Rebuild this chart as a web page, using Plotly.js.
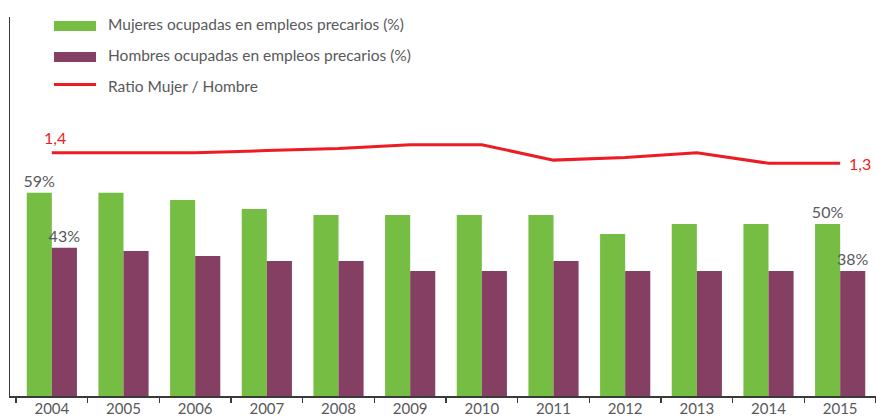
<!DOCTYPE html>
<html>
<head>
<meta charset="utf-8">
<script src="https://cdn.plot.ly/plotly-3.0.1.min.js"></script>
<style>html,body{margin:0;padding:0;background:#fff;}#chart{width:876px;height:419px;}</style>
</head>
<body>
<div id="chart"></div>
<script>
const years = ['2004','2005','2006','2007','2008','2009','2010','2011','2012','2013','2014','2015'];
const mujeres = [59, 59, 56.9, 54.3, 52.5, 52.5, 52.5, 52.5, 47, 49.9, 49.9, 49.9];
const hombres = [43, 42.1, 40.6, 39.2, 39.2, 36.3, 36.3, 39.2, 36.3, 36.3, 36.3, 36.3];
const ratio = [1.40, 1.40, 1.40, 1.42, 1.44, 1.475, 1.475, 1.33, 1.355, 1.40, 1.30, 1.30];
const mujeresLabels = ['59%', '', '', '', '', '', '', '', '', '', '', '50%'];
const hombresLabels = ['43%', '', '', '', '', '', '', '', '', '', '', '38%'];
const ratioLabels = ['1,4', '', '', '', '', '', '', '', '', '', '', '1,3'];
const legendNames = ['Mujeres ocupadas en empleos precarios (%)', 'Hombres ocupadas en empleos precarios (%)', 'Ratio Mujer / Hombre'];

const GREEN = '#76bd43', PURPLE = '#843f62', RED = '#ed1c24', TXT = '#58595b';
const FONT = 'Lato, Roboto, sans-serif';

const W = 876, H = 419, ML = 10, MR = 0, MT = 17, MB = 23;
const px = x => (x - ML) / (W - ML - MR);
const py = y => (H - MB - y) / (H - MT - MB);

const traces = [
  {type: 'bar', x: years, y: mujeres, name: legendNames[0], marker: {color: GREEN},
   text: mujeresLabels, textposition: 'outside', constraintext: 'none', cliponaxis: false,
   textfont: {family: FONT, size: 16, color: TXT}, hoverinfo: 'skip'},
  {type: 'bar', x: years, y: hombres, name: legendNames[1], marker: {color: PURPLE},
   text: hombresLabels, textposition: 'outside', constraintext: 'none', cliponaxis: false,
   textfont: {family: FONT, size: 16, color: TXT}, hoverinfo: 'skip'},
  {type: 'scatter', mode: 'lines', x: years, y: ratio, yaxis: 'y2', name: legendNames[2],
   line: {color: RED, width: 3}, cliponaxis: false, hoverinfo: 'skip'}
];

const shapes = [
  {type: 'rect', xref: 'paper', yref: 'paper', x0: px(54), x1: px(96), y0: py(21), y1: py(31), fillcolor: GREEN, line: {width: 0}},
  {type: 'rect', xref: 'paper', yref: 'paper', x0: px(54), x1: px(96), y0: py(52), y1: py(62), fillcolor: PURPLE, line: {width: 0}},
  {type: 'line', xref: 'paper', yref: 'paper', x0: px(54), x1: px(96), y0: py(84.5), y1: py(84.5), line: {color: RED, width: 3}}
];
const annotations = legendNames.map((t, i) => ({
  xref: 'paper', yref: 'paper', x: px(106), y: py([24, 55, 86][i]), xanchor: 'left', yanchor: 'middle',
  text: t, showarrow: false, font: {family: FONT, size: 15.5, color: TXT}
}));
ratioLabels.forEach((t, i) => {
  if (!t) return;
  const first = i === 0;
  annotations.push({
    xref: 'x', yref: 'y2', x: i, y: ratio[i], text: t, showarrow: false,
    xanchor: first ? 'center' : 'left', yanchor: first ? 'bottom' : 'middle',
    xshift: first ? 3 : 7, yshift: first ? 4 : 0,
    font: {family: FONT, size: 16, color: RED}
  });
});

const layout = {
  width: W, height: H,
  margin: {l: ML, r: MR, t: MT, b: MB, pad: 0},
  paper_bgcolor: '#fff', plot_bgcolor: '#fff',
  showlegend: false,
  barmode: 'group', bargap: 0.30, bargroupgap: 0,
  xaxis: {type: 'category', range: [-0.584, 11.5], showline: true, linecolor: '#3a3a3a', linewidth: 1.5,
          ticks: 'outside', tickson: 'boundaries', ticklen: 5, tickcolor: '#3a3a3a', tickwidth: 1.5,
          ticklabelstandoff: -2,
          tickfont: {family: FONT, size: 15, color: TXT}, showgrid: false, zeroline: false, fixedrange: true},
  yaxis: {range: [0, 110], showline: true, linecolor: '#3a3a3a', linewidth: 1.5, showticklabels: false,
          ticks: '', showgrid: false, zeroline: false, fixedrange: true},
  yaxis2: {overlaying: 'y', range: [-0.895, 2.68], showline: false, showticklabels: false, ticks: '',
           showgrid: false, zeroline: false, fixedrange: true},
  shapes: shapes,
  annotations: annotations
};

Plotly.newPlot('chart', traces, layout, {displayModeBar: false, staticPlot: true});
</script>
</body>
</html>
